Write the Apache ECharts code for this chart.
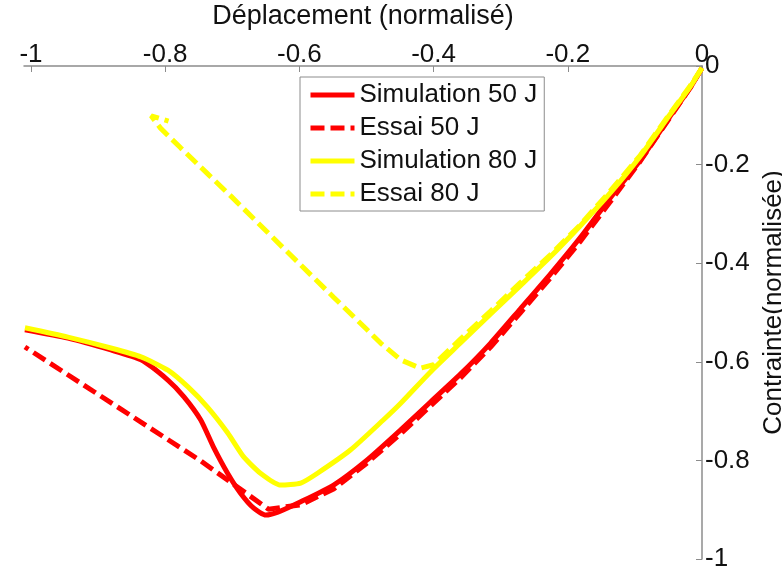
<!DOCTYPE html>
<html>
<head>
<meta charset="utf-8">
<script src="https://cdn.jsdelivr.net/npm/echarts@6/dist/echarts.min.js"></script>
<style>
  html, body { margin: 0; padding: 0; background: #fff; }
  #main { width: 782px; height: 569px; }
</style>
</head>
<body>
<div id="main"></div>
<script>
// ticks
var xTicks = [-1, -0.8, -0.6, -0.4, -0.2, 0];
var yTicks = [0, -0.2, -0.4, -0.6, -0.8, -1];

// Simulation 50 J
var sim50X = [-1.009, -0.945, -0.881, -0.836, -0.796, -0.772, -0.747, -0.728, -0.707, -0.688, -0.668, -0.650, -0.632, -0.598, -0.549, -0.499, -0.449, -0.405, -0.360, -0.315, -0.271, -0.226, -0.182, -0.137, -0.092, -0.048, -0.018, 0];
var sim50Y = [-0.535, -0.552, -0.576, -0.596, -0.637, -0.671, -0.718, -0.773, -0.826, -0.866, -0.897, -0.911, -0.905, -0.884, -0.850, -0.799, -0.738, -0.682, -0.625, -0.562, -0.493, -0.422, -0.349, -0.268, -0.191, -0.103, -0.045, -0.004];

// Essai 50 J
var ess50X = [0, -0.018, -0.048, -0.092, -0.137, -0.182, -0.226, -0.271, -0.315, -0.360, -0.405, -0.449, -0.499, -0.549, -0.598, -0.646, -0.747, -0.866, -1.009];
var ess50Y = [-0.004, -0.045, -0.105, -0.193, -0.276, -0.357, -0.430, -0.501, -0.570, -0.633, -0.690, -0.746, -0.805, -0.858, -0.890, -0.899, -0.801, -0.696, -0.570];

// Simulation 80 J
var sim80X = [-1.009, -0.945, -0.881, -0.836, -0.796, -0.766, -0.737, -0.707, -0.683, -0.658, -0.628, -0.598, -0.573, -0.524, -0.475, -0.449, -0.405, -0.360, -0.315, -0.271, -0.226, -0.182, -0.137, -0.092, -0.048, -0.018, 0];
var sim80Y = [-0.531, -0.550, -0.572, -0.590, -0.617, -0.651, -0.692, -0.744, -0.793, -0.826, -0.850, -0.846, -0.826, -0.779, -0.718, -0.684, -0.621, -0.562, -0.503, -0.446, -0.387, -0.325, -0.258, -0.183, -0.099, -0.043, -0.004];

// Essai 80 J
var ess80X = [0, -0.018, -0.048, -0.092, -0.137, -0.182, -0.226, -0.271, -0.315, -0.360, -0.400, -0.420, -0.449, -0.479, -0.499, -0.549, -0.624, -0.702, -0.777, -0.807, -0.821, -0.795];
var ess80Y = [-0.004, -0.041, -0.097, -0.181, -0.254, -0.323, -0.383, -0.440, -0.497, -0.554, -0.606, -0.613, -0.596, -0.562, -0.535, -0.469, -0.369, -0.264, -0.166, -0.126, -0.101, -0.112];

function pairs(xs, ys) {
  var out = [];
  for (var i = 0; i < xs.length; i++) out.push([xs[i], ys[i]]);
  return out;
}

var font = 'Liberation Sans, Arial, sans-serif';
var chart = echarts.init(document.getElementById('main'));

var option = {
  animation: false,
  backgroundColor: '#fff',
  grid: { left: 24, right: 80, top: 66, bottom: 10, outerBoundsMode: 'none', containLabel: false },
  legend: {
    orient: 'vertical',
    left: 300,
    top: 77,
    padding: [5, 7, 4, 8],
    itemWidth: 44,
    itemHeight: 14,
    itemGap: 7,
    backgroundColor: '#fff',
    borderColor: '#8c8c8c',
    borderWidth: 1,
    itemStyle: { opacity: 0 },
    lineStyle: { width: 5 },
    textStyle: { fontFamily: font, fontSize: 26, lineHeight: 26, color: '#111' },
    data: ['Simulation 50 J', 'Essai 50 J', 'Simulation 80 J', 'Essai 80 J']
  },
  xAxis: {
    type: 'value',
    position: 'top',
    min: -1.0104,
    max: 0,
    name: 'Déplacement (normalisé)',
    nameLocation: 'middle',
    nameGap: 36,
    nameTextStyle: { fontFamily: font, fontSize: 27, color: '#111' },
    axisLine: { onZero: false, lineStyle: { color: '#8c8c8c', width: 1.5 } },
    axisTick: { inside: true, length: 6, customValues: xTicks, lineStyle: { color: '#8c8c8c' } },
    axisLabel: { customValues: xTicks, margin: -2, fontFamily: font, fontSize: 26, color: '#111' },
    splitLine: { show: false }
  },
  yAxis: {
    type: 'value',
    position: 'right',
    min: -1,
    max: 0,
    interval: 0.2,
    name: 'Contrainte(normalisée)',
    nameLocation: 'middle',
    nameRotate: 90,
    nameGap: 52,
    nameTextStyle: { fontFamily: font, fontSize: 26, color: '#111', padding: [0, 0, 0, 20] },
    axisLine: { onZero: false, lineStyle: { color: '#8c8c8c', width: 1.5 } },
    axisTick: { inside: true, length: 6, lineStyle: { color: '#8c8c8c' } },
    axisLabel: { margin: 3, fontFamily: font, fontSize: 26, color: '#111' },
    splitLine: { show: false }
  },
  series: [
    {
      name: 'Simulation 50 J',
      type: 'line',
      symbol: 'none',
      smooth: 0.2,
      color: '#ff0000',
      lineStyle: { color: '#ff0000', width: 5 },
      data: pairs(sim50X, sim50Y)
    },
    {
      name: 'Essai 50 J',
      type: 'line',
      symbol: 'none',
      color: '#ff0000',
      lineStyle: { color: '#ff0000', width: 5, type: [14, 6] },
      data: pairs(ess50X, ess50Y)
    },
    {
      name: 'Simulation 80 J',
      type: 'line',
      symbol: 'none',
      smooth: 0.2,
      color: '#ffff00',
      lineStyle: { color: '#ffff00', width: 5 },
      data: pairs(sim80X, sim80Y)
    },
    {
      name: 'Essai 80 J',
      type: 'line',
      symbol: 'none',
      color: '#ffff00',
      lineStyle: { color: '#ffff00', width: 5, type: [14, 6] },
      data: pairs(ess80X, ess80Y)
    }
  ]
};

chart.setOption(option);
</script>
</body>
</html>
